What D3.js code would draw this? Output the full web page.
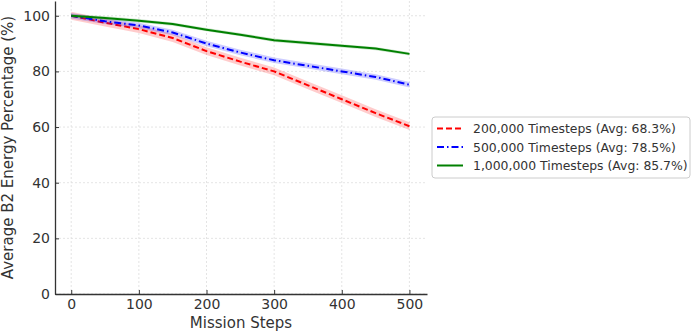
<!DOCTYPE html>
<html>
<head>
<meta charset="utf-8">
<script src="https://cdn.jsdelivr.net/npm/d3@7"></script>
<style>
  body { margin: 0; background: #fff; }
  text { font-family: "DejaVu Sans", sans-serif; fill: #333; }
</style>
</head>
<body>
<script>
// data
var steps = [0, 50, 100, 150, 200, 250, 300, 350, 400, 450, 500];
var energy200k = [100, 97.5, 95.2, 92, 87.3, 83.5, 80, 75, 70, 65, 60.3];
var energy500k = [100, 98, 96.5, 94, 90, 86.8, 84, 82, 80, 78, 75.2];
var energy1m = [100, 99.2, 98.2, 97, 95, 93.2, 91.2, 90.2, 89.2, 88.2, 86.3];
var bands = [1.4, 1.0, 0.6];
var seriesNames = ["200,000 Timesteps (Avg: 68.3%)", "500,000 Timesteps (Avg: 78.5%)", "1,000,000 Timesteps (Avg: 85.7%)"];
var colors = ["#ff0000", "#0000ff", "#008000"];
var dashes = ["6,3", "7,3,1.5,3", null];
var xTicks = [0, 100, 200, 300, 400, 500];
var yTicks = [0, 20, 40, 60, 80, 100];

var series = [energy200k, energy500k, energy1m];

var margin = {top: 1, left: 55, right: 268, bottom: 40},
    W = 695, H = 334,
    width = W - margin.left - margin.right,
    height = H - margin.top - margin.bottom;

var svg = d3.select("body").append("svg")
    .attr("width", W)
    .attr("height", H);

var g = svg.append("g")
    .attr("transform", "translate(" + margin.left + "," + margin.top + ")");

var x = d3.scaleLinear().domain([-24, 526]).range([0, width]);
var y = d3.scaleLinear().domain([0, 105.3]).range([height, 0]);

// grid
g.append("g").selectAll("line").data(xTicks).enter().append("line")
    .attr("x1", function(d) { return x(d); })
    .attr("x2", function(d) { return x(d); })
    .attr("y1", 0).attr("y2", height)
    .attr("stroke", "#ddd").attr("stroke-width", 0.8)
    .attr("stroke-dasharray", "2,2");
g.append("g").selectAll("line").data(yTicks).enter().append("line")
    .attr("y1", function(d) { return y(d); })
    .attr("y2", function(d) { return y(d); })
    .attr("x1", 0).attr("x2", width)
    .attr("stroke", "#ddd").attr("stroke-width", 0.8)
    .attr("stroke-dasharray", "2,2");

// bands and lines
var area = d3.area()
    .x(function(d) { return x(d.s); })
    .y0(function(d) { return y(d.v - d.b); })
    .y1(function(d) { return y(d.v + d.b); });
var line = d3.line()
    .x(function(d) { return x(d.s); })
    .y(function(d) { return y(d.v); });

series.forEach(function(vals, i) {
  var pts = steps.map(function(s, j) { return {s: s, v: vals[j], b: bands[i]}; });
  g.append("path").datum(pts)
      .attr("d", area)
      .attr("fill", colors[i])
      .attr("fill-opacity", 0.2);
  g.append("path").datum(pts)
      .attr("d", line)
      .attr("fill", "none")
      .attr("stroke", colors[i])
      .attr("stroke-width", 2)
      .attr("stroke-dasharray", dashes[i]);
});

// axes
var xAxis = d3.axisBottom(x).tickValues(xTicks).tickSizeInner(-4).tickSizeOuter(0).tickPadding(5);
var yAxis = d3.axisLeft(y).tickValues(yTicks).tickSizeInner(-4).tickSizeOuter(0).tickPadding(5);

var gx = g.append("g")
    .attr("transform", "translate(0," + height + ")")
    .call(xAxis);
var gy = g.append("g").call(yAxis);

[gx, gy].forEach(function(a) {
  a.select(".domain").attr("stroke", "#333").attr("stroke-width", 1.3);
  a.selectAll(".tick line").attr("stroke", "#333");
  a.selectAll(".tick text").style("font-size", "14px").attr("fill", "#333");
});

g.append("text")
    .attr("x", width / 2)
    .attr("y", height + 34)
    .attr("text-anchor", "middle")
    .style("font-size", "15px")
    .text("Mission Steps");

g.append("text")
    .attr("transform", "rotate(-90)")
    .attr("x", -height / 2)
    .attr("y", -42)
    .attr("text-anchor", "middle")
    .style("font-size", "15px")
    .text("Average B2 Energy Percentage (%)");

// legend
var lg = svg.append("g").attr("transform", "translate(432,117)");
lg.append("rect")
    .attr("width", 258).attr("height", 61)
    .attr("rx", 3)
    .attr("fill", "#fff")
    .attr("stroke", "#ccc");
seriesNames.forEach(function(name, i) {
  var yy = 11.5 + i * 18.5;
  lg.append("line")
      .attr("x1", 5).attr("x2", 31)
      .attr("y1", yy).attr("y2", yy)
      .attr("stroke", colors[i])
      .attr("stroke-width", 2)
      .attr("stroke-dasharray", dashes[i]);
  lg.append("text")
      .attr("x", 41)
      .attr("y", yy + 4.5)
      .style("font-size", "12.4px")
      .text(name);
});
</script>
</body>
</html>
